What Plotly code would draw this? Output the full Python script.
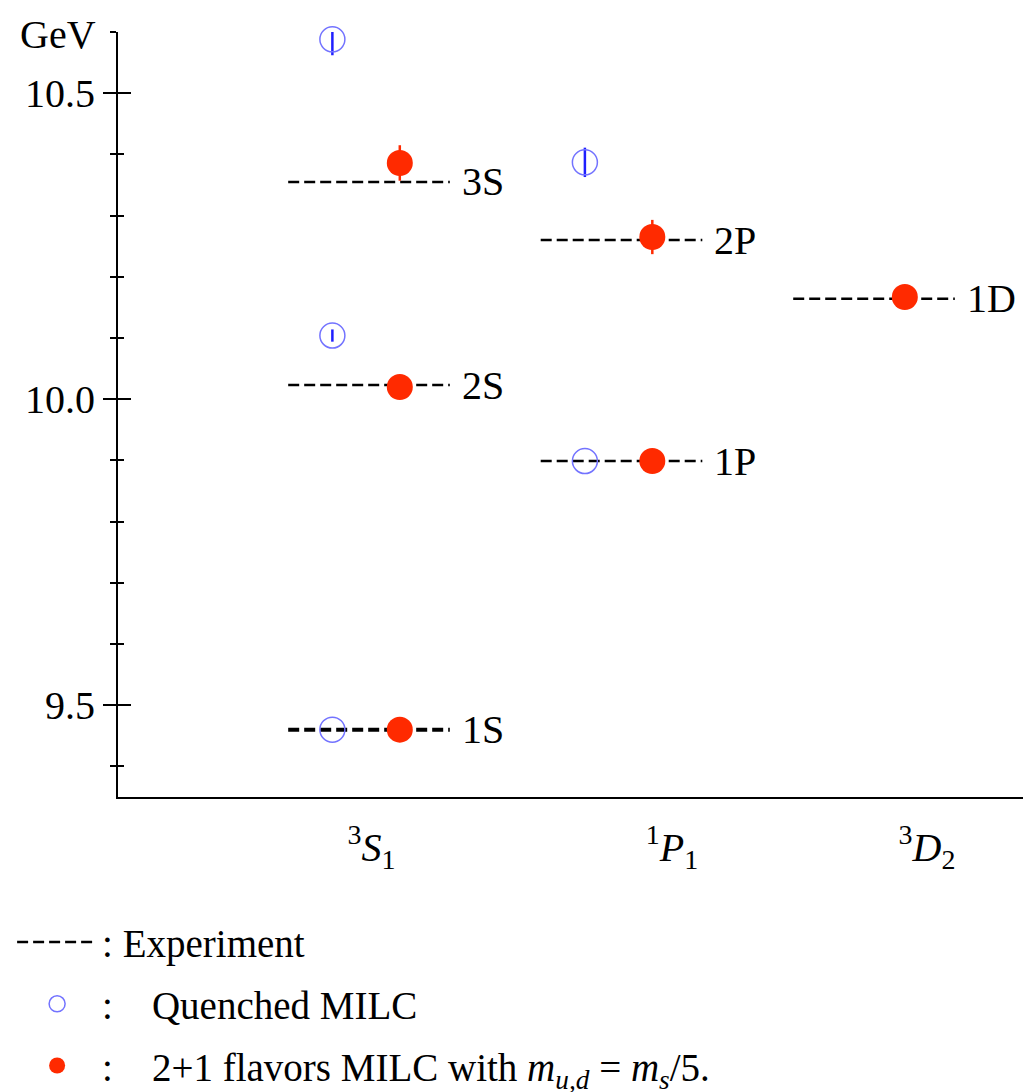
import plotly.graph_objects as go

# ---------------- data ----------------
cat_labels = ["<sup>3</sup><i>S</i><sub>1</sub>",
              "<sup>1</sup><i>P</i><sub>1</sub>",
              "<sup>3</sup><i>D</i><sub>2</sub>"]

exp_state = ["1S", "2S", "3S", "1P", "2P", "1D"]
exp_cat = [0, 0, 0, 1, 1, 2]
exp_mass = [9.460, 10.023, 10.355, 9.899, 10.260, 10.164]

q_cat = [0, 0, 0, 1, 1]
q_mass = [9.460, 10.104, 10.588, 9.899, 10.387]
q_err = [0.0, 0.010, 0.026, 0.0, 0.024]

d_cat = [0, 0, 0, 1, 1, 2]
d_mass = [9.460, 10.020, 10.386, 9.899, 10.265, 10.167]
d_err = [0.0, 0.0, 0.029, 0.0, 0.028, 0.0]

y_major = [9.5, 10.0, 10.5]
y_major_text = ["9.5", "10.0", "10.5"]

# ---------------- layout constants ----------------
HALF = 0.32      # half-width of experiment dashes (category units)
Q_OFF = -0.145   # quenched marker offset
D_OFF = 0.122    # dynamical marker offset
LABEL_POS = [0.01, 1.2, 2.21]
FONT = "Liberation Serif, 'Times New Roman', Times, 'DejaVu Serif', serif"
RED = "#ff2a00"
NB = "\u00a0"

fig = go.Figure()

# experiment lines
for thick in (False, True):
    xs, ys = [], []
    for s, c, m in zip(exp_state, exp_cat, exp_mass):
        if (s == "1S") != thick:
            continue
        xs += [c - HALF, c + HALF, None]
        ys += [m, m, None]
    fig.add_trace(go.Scatter(
        x=xs, y=ys, mode="lines",
        line=dict(color="black", width=4 if thick else 2.5, dash="11px,5px"),
        name=":" + NB + "Experiment", showlegend=not thick, legendgroup="exp",
        hoverinfo="skip"))

# quenched
fig.add_trace(go.Scatter(
    x=[c + Q_OFF for c in q_cat], y=q_mass, mode="markers",
    marker=dict(symbol="circle-open", size=25, color="#7373ff",
                line=dict(width=1.5)),
    error_y=dict(type="data", array=q_err, visible=True, color="#1f1fff",
                 thickness=2.5, width=0),
    name=":" + NB * 4 + "Quenched MILC", legendgroup="q",
    cliponaxis=False))

# 2+1 flavours
fig.add_trace(go.Scatter(
    x=[c + D_OFF for c in d_cat], y=d_mass, mode="markers",
    marker=dict(symbol="circle", size=26, color=RED, line=dict(width=0)),
    error_y=dict(type="data", array=d_err, visible=True, color=RED,
                 thickness=2.5, width=0),
    name=":" + NB * 4 + "2+1 flavors MILC with <i>m</i><sub><i>u,d</i></sub> = <i>m</i><sub><i>s</i></sub>/5.",
    legendgroup="d", cliponaxis=False))

# dummy trace for the overlaying axis (inside ticks)
fig.add_trace(go.Scatter(x=[None], y=[None], yaxis="y2", showlegend=False,
                         hoverinfo="skip"))

# level labels
for s, c, m in zip(exp_state, exp_cat, exp_mass):
    fig.add_annotation(x=c + HALF, y=m, text=s, showarrow=False,
                       xanchor="left", yanchor="middle", xshift=10,
                       font=dict(family=FONT, size=40, color="black"))

fig.add_annotation(xref="paper", yref="paper", x=-0.110, y=0.997,
                   text="GeV", showarrow=False, xanchor="left",
                   yanchor="middle",
                   font=dict(family=FONT, size=40, color="black"))

yaxis_common = dict(range=[9.35, 10.6], tickvals=y_major)
fig.update_layout(
    width=1023, height=1092,
    margin=dict(l=118, r=0, t=32, b=295, autoexpand=False),
    paper_bgcolor="white", plot_bgcolor="white",
    font=dict(family=FONT, size=40, color="black"),
    xaxis=dict(range=[-0.994, 2.59], tickvals=LABEL_POS, ticktext=cat_labels,
               showgrid=False, zeroline=False, showline=True,
               linecolor="black", linewidth=2, ticks="",
               ticklabelstandoff=14,
               tickfont=dict(family=FONT, size=40, color="black")),
    yaxis=dict(**yaxis_common, ticktext=y_major_text, showgrid=False,
               zeroline=False, showline=True, linecolor="black", linewidth=2,
               ticks="outside", ticklen=13, tickwidth=2, tickcolor="black",
               tickfont=dict(family=FONT, size=40, color="black"),
               minor=dict(dtick=0.1, ticks="outside", ticklen=6,
                          tickwidth=2, tickcolor="black", showgrid=False)),
    yaxis2=dict(**yaxis_common, overlaying="y", matches="y", anchor="x",
                side="left", showticklabels=False, showgrid=False,
                zeroline=False, showline=False,
                ticks="inside", ticklen=13, tickwidth=2, tickcolor="black",
                minor=dict(dtick=0.1, ticks="inside", ticklen=6,
                           tickwidth=2, tickcolor="black", showgrid=False)),
    legend=dict(x=-0.117, y=-0.148, xanchor="left", yanchor="top",
                bgcolor="rgba(0,0,0,0)", font=dict(family=FONT, size=39),
                itemwidth=80, tracegroupgap=8),
    showlegend=True,
)

fig.write_html("out.html")
